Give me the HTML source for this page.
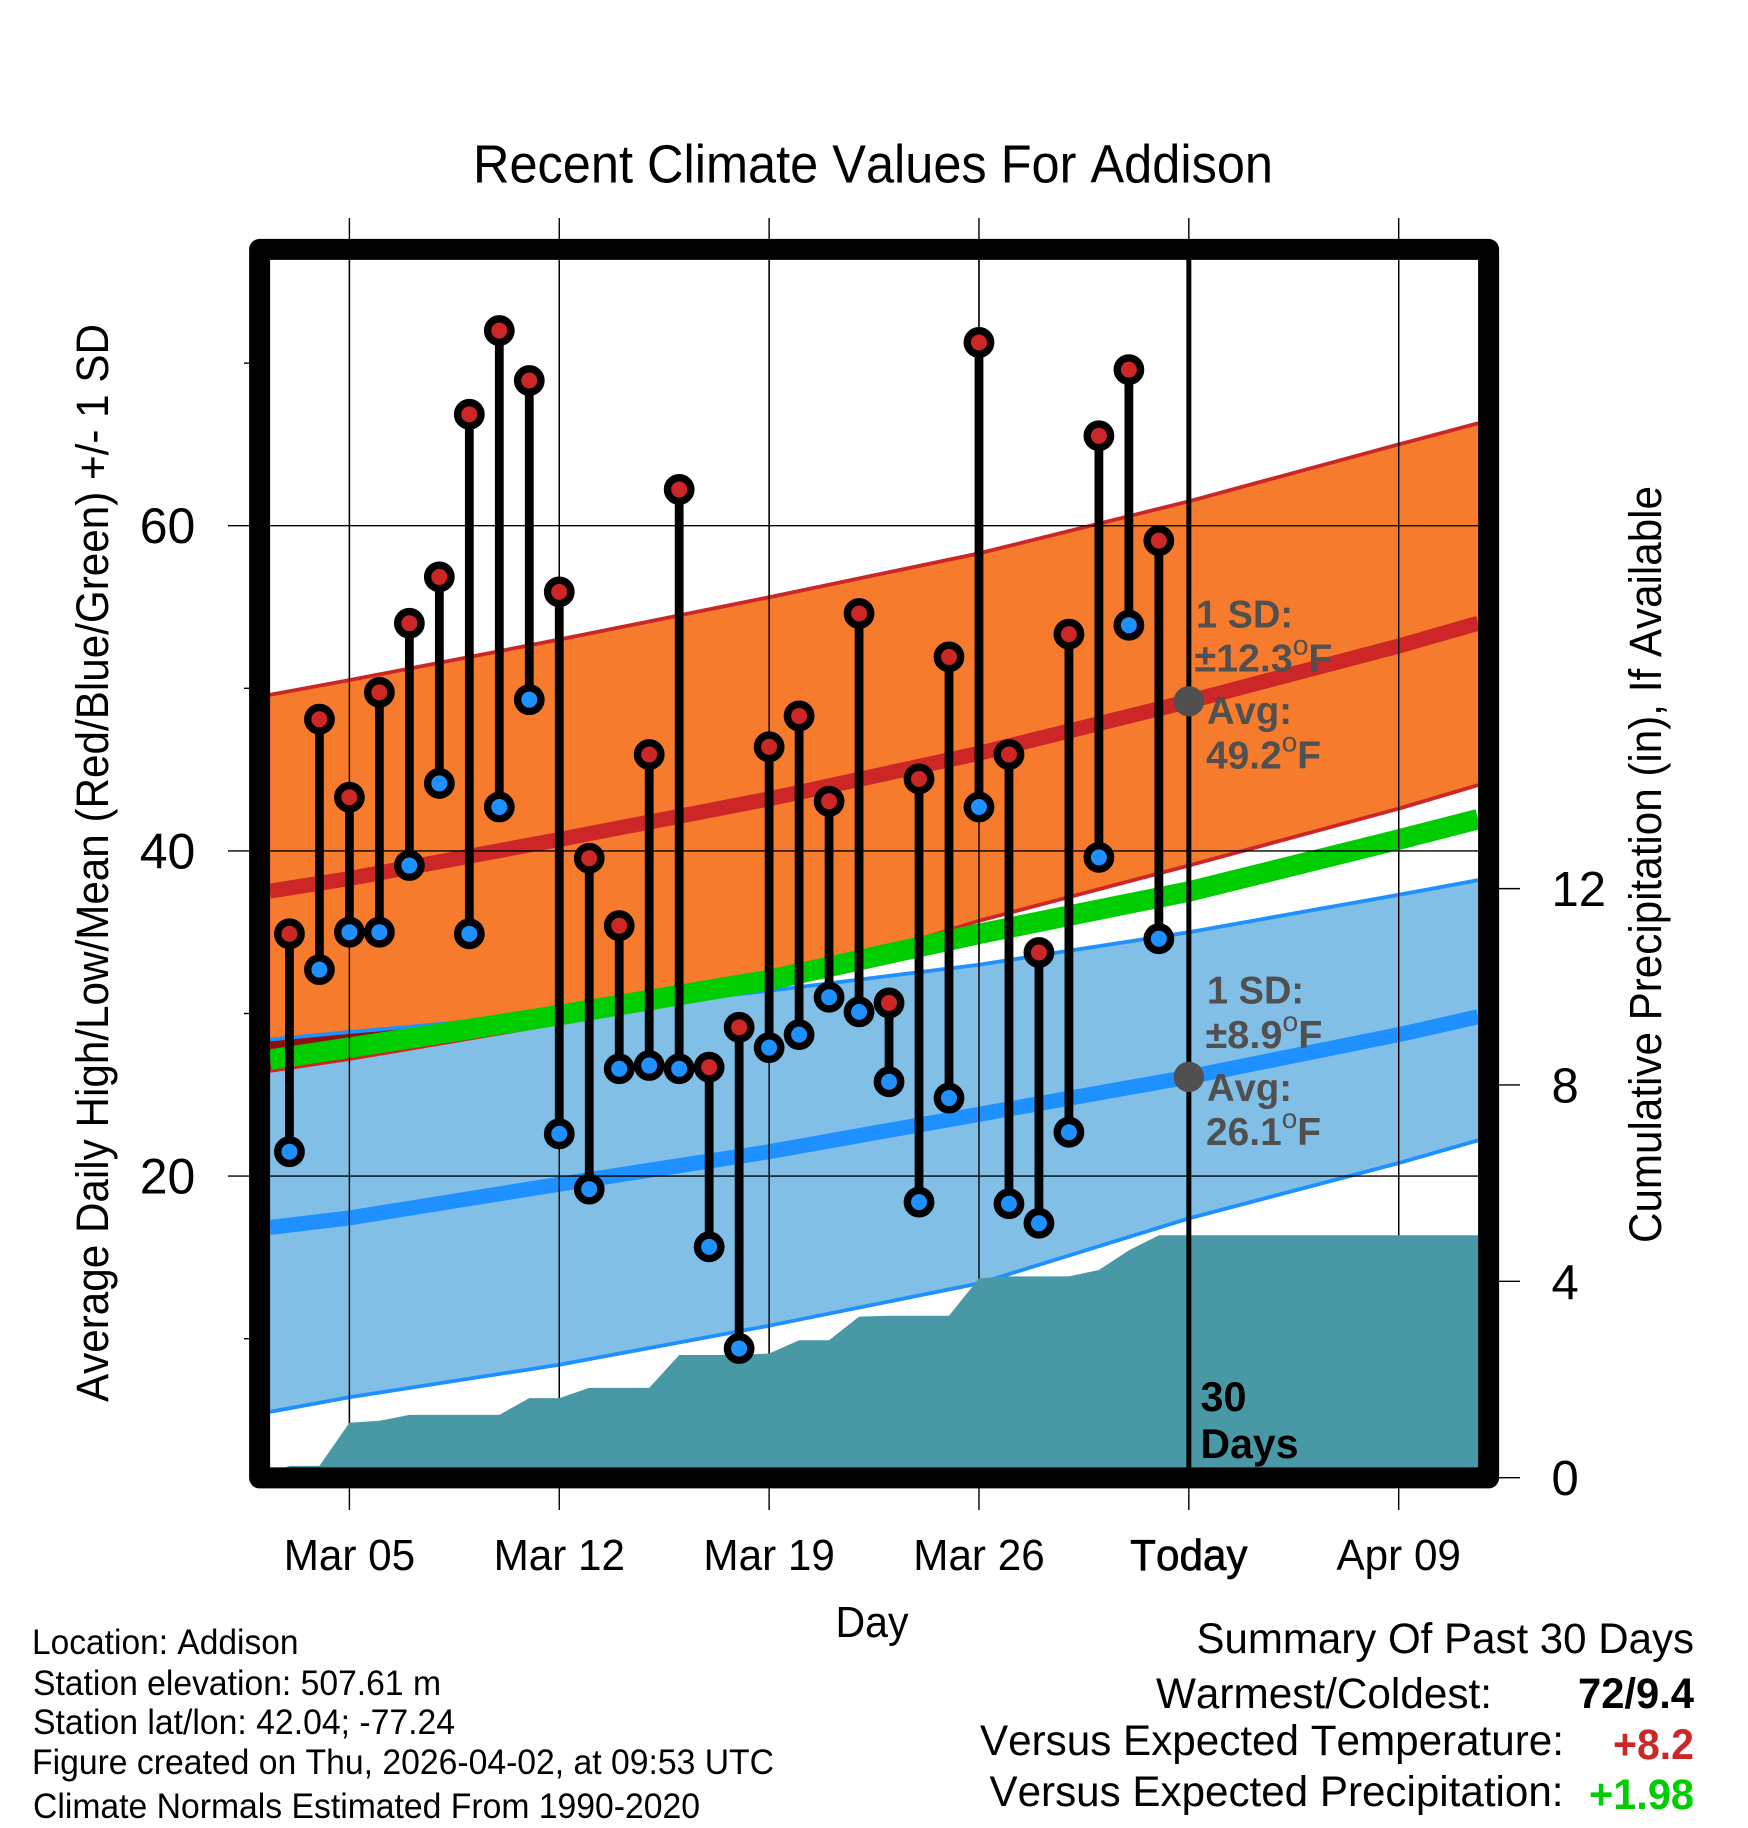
<!DOCTYPE html>
<html lang="en">
<head>
<meta charset="utf-8">
<title>Recent Climate Values For Addison</title>
<style>
html,body{margin:0;padding:0;background:#fff;}
svg{display:block;font-family:"Liberation Sans",Arial,sans-serif;font-kerning:none;}
text{fill:#000;}
.anno{font-weight:bold;font-size:39px;fill:#505050;}
.info{font-size:35px;}
.sum{font-size:43px;}
.sumv{font-size:43px;font-weight:bold;}
</style>
</head>
<body>
<svg id="chart" xmlns="http://www.w3.org/2000/svg" width="1748" height="1828" viewBox="0 0 1748 1828">
  <defs>
    <clipPath id="plot-clip"><rect x="270" y="259.7" width="1208" height="1208"/></clipPath>
    <clipPath id="low-band-clip"><path id="low-band-clip-path" d=""/></clipPath>
  </defs>
  <rect x="0" y="0" width="1748" height="1828" fill="#fff"/>
  <g id="ticks-layer"></g>
  <g id="plot-layer" clip-path="url(#plot-clip)"></g>
  <g id="marks-layer" clip-path="url(#plot-clip)"></g>
  <g id="labels-layer"></g>

  <text x="473" y="182.5" font-size="54" textLength="800" lengthAdjust="spacingAndGlyphs">Recent Climate Values For Addison</text>
  <text transform="translate(108,1402) rotate(-90)" font-size="45" textLength="1078" lengthAdjust="spacingAndGlyphs">Average Daily High/Low/Mean (Red/Blue/Green) +/- 1 SD</text>
  <text transform="translate(1661,1243) rotate(-90)" font-size="45" textLength="757" lengthAdjust="spacingAndGlyphs">Cumulative Precipitation (in), If Available</text>
  <text x="835.5" y="1637" font-size="44" textLength="73" lengthAdjust="spacingAndGlyphs">Day</text>

  <text class="anno" x="1196" y="627.6" textLength="97" lengthAdjust="spacingAndGlyphs">1 SD:</text>
  <text class="anno" x="1194.5" y="671.6" textLength="138" lengthAdjust="spacingAndGlyphs">±12.3<tspan font-size="28" font-weight="normal" dy="-17">o</tspan><tspan dy="17">F</tspan></text>
  <text class="anno" x="1207" y="724" textLength="85" lengthAdjust="spacingAndGlyphs">Avg:</text>
  <text class="anno" x="1206" y="768.7" textLength="115" lengthAdjust="spacingAndGlyphs">49.2<tspan font-size="28" font-weight="normal" dy="-17">o</tspan><tspan dy="17">F</tspan></text>
  <text class="anno" x="1207" y="1003.5" textLength="97" lengthAdjust="spacingAndGlyphs">1 SD:</text>
  <text class="anno" x="1205.5" y="1048" textLength="117" lengthAdjust="spacingAndGlyphs">±8.9<tspan font-size="28" font-weight="normal" dy="-17">o</tspan><tspan dy="17">F</tspan></text>
  <text class="anno" x="1207" y="1101" textLength="85" lengthAdjust="spacingAndGlyphs">Avg:</text>
  <text class="anno" x="1206" y="1145" textLength="115" lengthAdjust="spacingAndGlyphs">26.1<tspan font-size="28" font-weight="normal" dy="-17">o</tspan><tspan dy="17">F</tspan></text>
  <text x="1200.5" y="1411" font-size="42" font-weight="bold" textLength="46" lengthAdjust="spacingAndGlyphs">30</text>
  <text x="1200.5" y="1458" font-size="42" font-weight="bold" textLength="98" lengthAdjust="spacingAndGlyphs">Days</text>

  <rect x="259.6" y="249.4" width="1229" height="1228.5" fill="none" stroke="#000" stroke-width="21" stroke-linejoin="round"/>

  <text class="info" x="32" y="1654" textLength="266.5" lengthAdjust="spacingAndGlyphs">Location: Addison</text>
  <text class="info" x="33" y="1695" textLength="408" lengthAdjust="spacingAndGlyphs">Station elevation: 507.61 m</text>
  <text class="info" x="33" y="1734" textLength="422" lengthAdjust="spacingAndGlyphs">Station lat/lon: 42.04; -77.24</text>
  <text class="info" x="32" y="1774" textLength="742" lengthAdjust="spacingAndGlyphs">Figure created on Thu, 2026-04-02, at 09:53 UTC</text>
  <text class="info" x="33" y="1818" textLength="667" lengthAdjust="spacingAndGlyphs">Climate Normals Estimated From 1990-2020</text>

  <text class="sum" x="1196.5" y="1653" textLength="497.5" lengthAdjust="spacingAndGlyphs">Summary Of Past 30 Days</text>
  <text class="sum" x="1156" y="1708" textLength="336" lengthAdjust="spacingAndGlyphs">Warmest/Coldest:</text>
  <text class="sumv" x="1578" y="1708" textLength="116" lengthAdjust="spacingAndGlyphs">72/9.4</text>
  <text class="sum" x="980" y="1755" textLength="584" lengthAdjust="spacingAndGlyphs">Versus Expected Temperature:</text>
  <text class="sumv" x="1613" y="1759" textLength="81" lengthAdjust="spacingAndGlyphs" style="fill:#CD2626">+8.2</text>
  <text class="sum" x="989.5" y="1806" textLength="574" lengthAdjust="spacingAndGlyphs">Versus Expected Precipitation:</text>
  <text class="sumv" x="1589" y="1809" textLength="105" lengthAdjust="spacingAndGlyphs" style="fill:#00CD00">+1.98</text>
</svg>
<script>
// Day number counts from March 1 = 1 (April 2 = 33).
const obsDays = [3,4,5,6,7,8,9,10,11,12,13,14,15,16,17,18,19,20,21,22,23,24,25,26,27,28,29,30,31,32];
const obsHigh = [34.9,48.1,43.3,49.75,54.0,56.85,66.85,72.0,68.93,55.93,39.55,35.4,45.93,62.23,26.7,29.15,46.4,48.3,43.05,54.6,30.65,44.43,51.93,71.27,45.93,33.75,53.33,65.53,69.6,59.08];
const obsLow = [21.5,32.7,35.0,35.0,39.1,44.15,34.9,42.7,49.3,22.6,19.2,26.6,26.8,26.6,15.65,9.4,27.9,28.7,31.0,30.1,25.8,18.4,24.8,42.7,18.3,17.1,22.7,39.6,53.88,34.6];

const normalDays = [2.35,5,12,19,26,33,40,42.65];
const highUpper = [49.6,50.5,53.0,55.6,58.3,61.5,65.0,66.3];
const highMean = [37.53,38.3,40.7,43.2,46.0,49.2,52.6,54.0];
const highLower = [26.47,27.2,29.4,31.7,35.7,39.1,42.6,44.05];
const dailyMean = [27.16,27.9,29.9,32.06,34.9,37.5,40.7,41.95];
const lowUpper = [28.4,28.86,30.0,31.4,33.0,35.0,37.3,38.2];
const lowMean = [16.84,17.43,19.5,21.5,23.8,26.1,28.7,29.8];
const lowLower = [5.5,6.4,8.4,10.8,13.4,17.4,20.8,22.2];

const precipDays = [2,3,4,5,6,7,8,9,10,11,12,13,14,15,16,17,18,19,20,21,22,23,24,25,26,27,28,29,30,31,32,33,43];
const precipValues = [0,0.24,0.24,1.12,1.16,1.28,1.28,1.28,1.28,1.62,1.62,1.83,1.83,1.83,2.5,2.5,2.5,2.53,2.8,2.8,3.28,3.3,3.3,3.3,4.06,4.1,4.1,4.1,4.23,4.63,4.94,4.94,4.94];

const xTickDays = [5,12,19,26,33,40];
const xTickLabels = ['Mar 05','Mar 12','Mar 19','Mar 26','Today','Apr 09'];
const yMajorTicks = [20,40,60];
const yMinorTicks = [10,30,50,70];
const precipTicks = [0,4,8,12];
const todayDay = 33;
const todayHigh = 49.2;
const todayLow = 26.1;

const xOf = d => 349.4 + (d - 5) * 29.98;
const yTemp = t => 525.7 + (60 - t) * 16.26;
const yPrecip = p => 1477.7 - p * 49.09;

const NS = 'http://www.w3.org/2000/svg';
const plot = document.getElementById('plot-layer');
const marks = document.getElementById('marks-layer');
const ticks = document.getElementById('ticks-layer');
const labels = document.getElementById('labels-layer');

function make(tag, parent, attrs, txt) {
  const el = document.createElementNS(NS, tag);
  for (const k in attrs) el.setAttribute(k, attrs[k]);
  if (txt !== undefined) el.textContent = txt;
  parent.appendChild(el);
  return el;
}
function pts(days, vals, yf) {
  return days.map((d, i) => xOf(d).toFixed(2) + ' ' + yf(vals[i]).toFixed(2));
}
function linePath(days, vals) {
  return 'M' + pts(days, vals, yTemp).join('L');
}
function bandPath(days, top, bottom) {
  const a = pts(days, top, yTemp);
  const b = pts(days, bottom, yTemp).reverse();
  return 'M' + a.concat(b).join('L') + 'Z';
}

document.getElementById('low-band-clip-path').setAttribute('d', bandPath(normalDays, lowUpper, lowLower));

let el;
el = make('path', plot, {d: bandPath(normalDays, highUpper, highLower), fill: '#F77B2D'});



el = make('path', plot, {d: bandPath(normalDays, lowUpper, lowLower), fill: '#82BFE6'});



el = make('path', plot, {d: bandPath(normalDays, highUpper, highLower), fill: '#8E1111', 'clip-path': 'url(#low-band-clip)'});



el = make('path', plot, {d: linePath(normalDays, highUpper), fill: 'none', stroke: '#CD2626', 'stroke-width': 3.8});



el = make('path', plot, {d: linePath(normalDays, highLower), fill: 'none', stroke: '#CD2626', 'stroke-width': 3.8});



el = make('path', plot, {d: linePath(normalDays, lowUpper), fill: 'none', stroke: '#1E90FF', 'stroke-width': 3.8});



el = make('path', plot, {d: linePath(normalDays, lowLower), fill: 'none', stroke: '#1E90FF', 'stroke-width': 3.8});



el = make('path', plot, {d: linePath(normalDays, highMean), fill: 'none', stroke: '#CD2626', 'stroke-width': 15});



el = make('path', plot, {d: linePath(normalDays, lowMean), fill: 'none', stroke: '#1E90FF', 'stroke-width': 15});



el = make('path', plot, {d: linePath(normalDays, dailyMean), fill: 'none', stroke: '#00CD00', 'stroke-width': 20.5});



// grid lines + ticks: vertical run past the frame, horizontal likewise
xTickDays.forEach((d, i) => {
  const ln = make('line', ticks, {x1: xOf(d), x2: xOf(d), y1: 218, y2: 1510, stroke: '#000', 'stroke-width': 1.4});
  
  
  const g = make('line', plot, {x1: xOf(d), x2: xOf(d), y1: 218, y2: 1510, stroke: '#000', 'stroke-width': 1.4});
  
  
  const isToday = d === todayDay;
  const t = make('text', labels, {transform: 'translate(' + xOf(d) + ',1570) scale(0.96,1)', 'text-anchor': 'middle', 'font-size': 44, stroke: isToday ? '#000' : 'none', 'stroke-width': isToday ? 0.7 : 0}, xTickLabels[i]);
  
  
});
yMajorTicks.forEach(v => {
  const ln = make('line', ticks, {x1: 228, x2: 260, y1: yTemp(v), y2: yTemp(v), stroke: '#000', 'stroke-width': 1.4});
  
  
  const g = make('line', plot, {x1: 260, x2: 1490, y1: yTemp(v), y2: yTemp(v), stroke: '#000', 'stroke-width': 1.4});
  
  
  const t = make('text', labels, {x: 167.5, y: yTemp(v) + 17.5, 'text-anchor': 'middle', 'font-size': 50}, String(v));
  
  
});
yMinorTicks.forEach(v => {
  const ln = make('line', ticks, {x1: 244, x2: 260, y1: yTemp(v), y2: yTemp(v), stroke: '#000', 'stroke-width': 1.4});
  
  
});
precipTicks.forEach(v => {
  const ln = make('line', ticks, {x1: 1490, x2: 1520, y1: yPrecip(v), y2: yPrecip(v), stroke: '#000', 'stroke-width': 1.4});
  
  
  const t = make('text', labels, {x: 1551.5, y: yPrecip(v) + 17.5, 'font-size': 49}, String(v));
  
  
});

// cumulative precipitation area
const precipTop = pts(precipDays, precipValues, yPrecip);
const baseRight = xOf(precipDays[precipDays.length - 1]).toFixed(2) + ' ' + yPrecip(0);
const baseLeft = xOf(precipDays[0]).toFixed(2) + ' ' + yPrecip(0);
el = make('path', plot, {d: 'M' + precipTop.join('L') + 'L' + baseRight + 'L' + baseLeft + 'Z', fill: '#4899A5'});



// today marker line
el = make('line', marks, {x1: xOf(todayDay), x2: xOf(todayDay), y1: 250, y2: 1480, stroke: '#000', 'stroke-width': 5});



// daily stems and dots
obsDays.forEach((d, i) => {
  const x = xOf(d);
  const stem = make('line', marks, {x1: x, x2: x, y1: yTemp(obsHigh[i]), y2: yTemp(obsLow[i]), stroke: '#000', 'stroke-width': 8.8});
  
  
});
obsDays.forEach((d, i) => {
  const x = xOf(d);
  const hi = make('circle', marks, {cx: x, cy: yTemp(obsHigh[i]), r: 11.7, fill: '#CD2626', stroke: '#000', 'stroke-width': 7.4});
  
  
  const lo = make('circle', marks, {cx: x, cy: yTemp(obsLow[i]), r: 11.7, fill: '#1E90FF', stroke: '#000', 'stroke-width': 7.4});
  
  
});

el = make('circle', marks, {cx: xOf(todayDay), cy: yTemp(todayHigh), r: 15.2, fill: '#505050'});



el = make('circle', marks, {cx: xOf(todayDay), cy: yTemp(todayLow), r: 15.2, fill: '#505050'});


</script>
</body>
</html>
